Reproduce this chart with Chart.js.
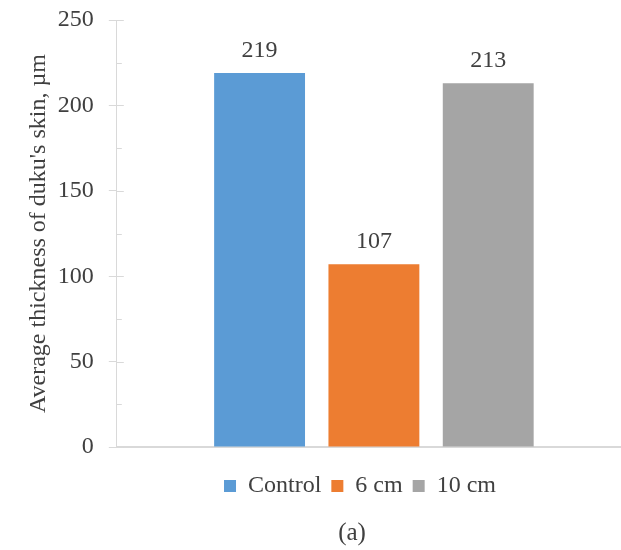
<!DOCTYPE html>
<html>
<head>
<meta charset="utf-8">
<script src="https://cdn.jsdelivr.net/npm/chart.js@4"></script>
<style>
  html, body { margin: 0; padding: 0; background: #ffffff; overflow: hidden; }
  #wrap { width: 621px; height: 550px; overflow: hidden; }
  canvas { display: block; }
</style>
</head>
<body>
<div id="wrap"><canvas id="c" width="640" height="550"></canvas></div>
<script>
// ---- data ----
const categories = [''];
const seriesNames = ['Control', '6 cm', '10 cm'];
const controlValues = [219];
const cm6Values = [107];
const cm10Values = [213];
const yTicks = [0, 50, 100, 150, 200, 250];
const yMinorStep = 25;
const yTitle = "Average thickness of duku's skin, \u00B5m";
const caption = '(a)';

const colors = ['#5B9BD5', '#ED7D31', '#A5A5A5'];
const textColor = '#404040';
const axisColor = '#d9d9d9';
const FONT = "'Liberation Serif', 'Times New Roman', serif";

Chart.defaults.font.family = FONT;
Chart.defaults.color = textColor;

const valueLabels = {
  id: 'valueLabels',
  afterDatasetsDraw(chart) {
    const ctx = chart.ctx;
    ctx.save();
    ctx.font = "24px " + FONT;
    ctx.fillStyle = textColor;
    ctx.textAlign = 'center';
    ctx.textBaseline = 'alphabetic';
    chart.data.datasets.forEach((ds, di) => {
      const meta = chart.getDatasetMeta(di);
      meta.data.forEach((el, i) => {
        ctx.fillText(String(ds.data[i]), el.x, el.y - 16);
      });
    });
    ctx.restore();
  }
};

const innerTicks = {
  id: 'innerTicks',
  afterDraw(chart) {
    const y = chart.scales.y;
    const ctx = chart.ctx;
    const x0 = chart.chartArea.left;
    ctx.save();
    ctx.strokeStyle = axisColor;
    ctx.lineWidth = 1;
    for (let v = y.min; v <= y.max; v += yMinorStep) {
      const py = Math.round(y.getPixelForValue(v)) + 0.5;
      const major = yTicks.includes(v);
      ctx.beginPath();
      ctx.moveTo(x0, py);
      ctx.lineTo(x0 + (major ? 7 : 5), py);
      ctx.stroke();
    }
    ctx.restore();
  }
};

const shiftBoxes = {
  id: 'shiftBoxes',
  afterLayout(chart) {
    const shift = (box, target) => {
      if (!box) return;
      const dx = target - (box.left + box.right) / 2;
      box.left += dx; box.right += dx;
    };
    shift(chart.legend, 360);
    shift(chart.titleBlock, 352);
  }
};

new Chart(document.getElementById('c'), {
  type: 'bar',
  data: {
    labels: categories,
    datasets: [
      { label: seriesNames[0], data: controlValues, backgroundColor: colors[0], borderWidth: 0 },
      { label: seriesNames[1], data: cm6Values, backgroundColor: colors[1], borderWidth: 0 },
      { label: seriesNames[2], data: cm10Values, backgroundColor: colors[2], borderWidth: 0 }
    ]
  },
  options: {
    responsive: false,
    animation: false,
    events: [],
    categoryPercentage: 0.667,
    barPercentage: 0.795,
    layout: { padding: { top: 20, left: 20, right: 9, bottom: 0 } },
    scales: {
      x: {
        ticks: { display: false },
        grid: { display: true, drawOnChartArea: false, drawTicks: true, tickLength: 17, color: 'rgba(0,0,0,0)' },
        border: { display: true, color: axisColor, width: 2 }
      },
      y: {
        min: 0,
        max: 250,
        afterBuildTicks(scale) { scale.ticks = yTicks.map(v => ({ value: v })); },
        ticks: { font: { size: 24, lineHeight: 0.4 }, color: textColor, padding: 15 },
        grid: { display: true, drawOnChartArea: false, drawTicks: true, tickLength: 8, color: axisColor },
        border: { display: true, color: axisColor, width: 1 },
        title: {
          display: true,
          text: yTitle,
          font: { size: 24 },
          color: textColor,
          padding: { top: 4, bottom: -10 }
        }
      }
    },
    plugins: {
      legend: {
        position: 'bottom',
        labels: { boxWidth: 12, boxHeight: 12, padding: 10, font: { size: 24 }, color: textColor }
      },
      title: {
        display: true,
        position: 'bottom',
        text: caption,
        font: { size: 25, weight: 'normal', lineHeight: 1.15 },
        color: textColor,
        padding: { top: 10.6, bottom: 2.6 }
      },
      tooltip: { enabled: false }
    }
  },
  plugins: [valueLabels, innerTicks, shiftBoxes]
});
</script>
</body>
</html>
